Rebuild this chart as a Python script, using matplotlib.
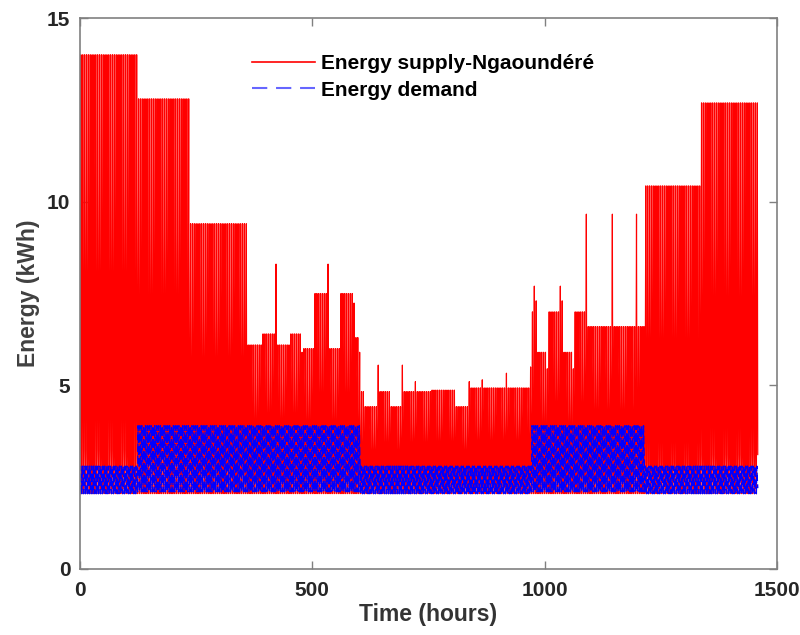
import numpy as np
import matplotlib
matplotlib.use("Agg")
import matplotlib.pyplot as plt

plt.rcParams["lines.scale_dashes"] = False
plt.rcParams["path.simplify"] = False

# Daily peak supply (kWh), one entry per day, grouped by month
jan = [14.0] * 31
feb = [12.8] * 28
mar = [9.4] * 31
apr = [6.1] * 8 + [6.4] * 7 + [8.3] + [6.1] * 7 + [6.4] * 6 + [5.9]
may = [6.0] * 6 + [7.5] * 7 + [8.3] + [6.0] * 6 + [7.5] * 7 + [7.24] + [6.3] * 2 + [5.9]
jun = [4.83] * 2 + [4.42] * 7 + [5.55] + [4.83] * 6 + [4.42] * 6 + [5.55] + [4.83] * 6 + [5.1]
jul = [4.83] * 8 + [4.87] * 13 + [4.42] * 7 + [5.1] + [4.93] * 2
aug = [4.93] * 4 + [5.15] + [4.93] * 12 + [5.33] + [4.93] * 12 + [5.5]
sep = [7.0, 7.7, 7.3] + [5.9] * 5 + [5.45] + [7.0] * 6 + [7.7, 7.3] + [5.9] * 5 + [5.45] + [7.0] * 6 + [9.66]
octo = [6.6] * 13 + [9.66] + [6.6] * 12 + [9.66] + [6.6] * 4
nov = [10.43] * 30
dec = [12.69] * 31
monthly_peaks = [jan, feb, mar, apr, may, jun, jul, aug, sep, octo, nov, dec]

# Months with the higher load profile
high_load_month = [False, True, True, True, True, False,
                   False, False, True, True, False, False]

# Four readings per day
supply_floor = 2.05
supply_day_shape = [0.0, 0.45, 1.0, 0.10]
demand_day_low = [2.05, 2.80, 2.45, 2.20]
demand_day_high = [2.10, 3.90, 3.30, 2.70]

supply, demand = [], []
for peaks, high in zip(monthly_peaks, high_load_month):
    for p in peaks:
        supply += [supply_floor + (p - supply_floor) * s for s in supply_day_shape]
        demand += demand_day_high if high else demand_day_low
supply = np.array(supply)
demand = np.array(demand)
hours = np.arange(len(supply))

fig = plt.figure(figsize=(8.0, 6.35), dpi=100)
ax = fig.add_axes([0.1, 0.104, 0.871, 0.8676])

ax.plot(hours, supply, color="#ff0000", lw=0.85, label="Energy supply-Ngaoundéré")
ax.plot(hours, demand, color="#0000ff", lw=1.0, dashes=(6, 2.5), label="Energy demand")

ax.set_xlim(0, 1500)
ax.set_ylim(0, 15)
ax.set_xticks([0, 500, 1000, 1500])
ax.set_yticks([0, 5, 10, 15])

for s in ax.spines.values():
    s.set_color("#808080")
    s.set_linewidth(1.2)

ax.tick_params(direction="in", length=6, width=1.0, color="#808080",
               top=True, right=True, labelsize=15, labelcolor="#262626")
ax.tick_params(axis="x", pad=9)
ax.tick_params(axis="y", pad=7)
for lab in ax.get_xticklabels() + ax.get_yticklabels():
    lab.set_fontweight("bold")
    lab.set_family("Liberation Sans")

ax.set_xlabel("Time (hours)", fontsize=16.5, fontweight="bold",
              family="Liberation Sans", color="#333333", labelpad=2)
ax.set_ylabel("Energy (kWh)", fontsize=16.5, fontweight="bold",
              family="Liberation Sans", color="#404040")
ax.yaxis.set_label_coords(-0.058, 0.5)

leg = ax.legend(loc="upper left", bbox_to_anchor=(0.247, 0.934), frameon=False,
                prop={"family": "Liberation Sans", "weight": "bold", "size": 15},
                handlelength=3.0, handletextpad=0.3, borderpad=0,
                borderaxespad=0, labelspacing=0.35)
leg_lines = leg.get_lines()
leg_lines[0].set_linewidth(1.2)
leg_lines[1].set_linewidth(1.5)
leg_lines[1].set_dashes((11, 6.3))
leg_lines[1].set_alpha(0.6)

fig.savefig("out.png", dpi=100, facecolor="white")
